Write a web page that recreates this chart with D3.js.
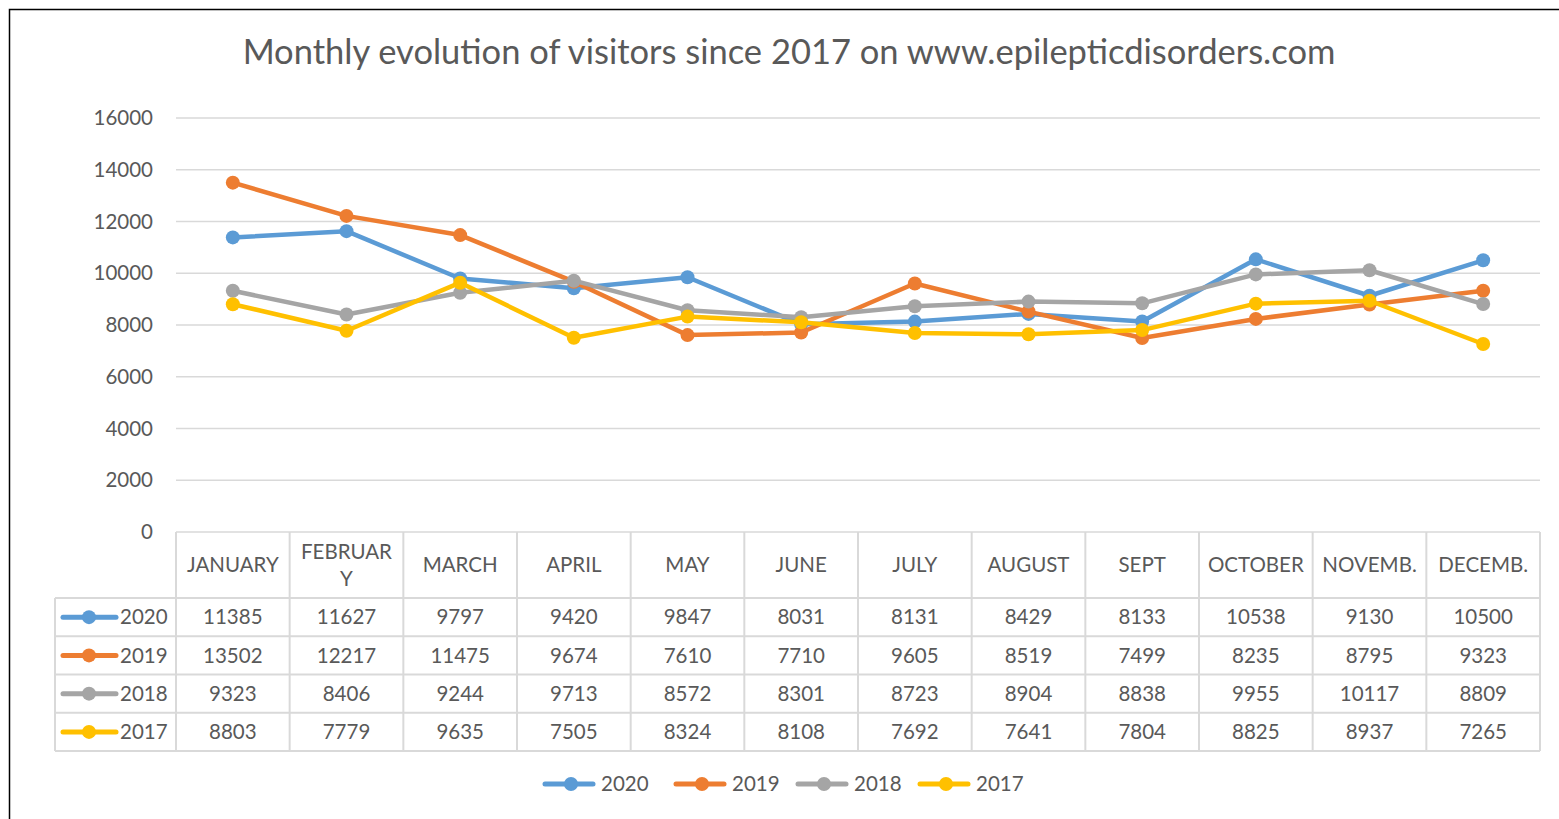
<!DOCTYPE html>
<html><head><meta charset="utf-8">
<script src="https://cdn.jsdelivr.net/npm/d3@7"></script>
<style>html,body{margin:0;padding:0;background:#fff;overflow:hidden}</style>
</head><body>
<svg id="chart" width="1559" height="819"></svg>
<script>
const months = ["JANUARY","FEBRUARY","MARCH","APRIL","MAY","JUNE","JULY","AUGUST","SEPT","OCTOBER","NOVEMB.","DECEMB."];
const years = ["2020","2019","2018","2017"];
const v2020 = [11385,11627,9797,9420,9847,8031,8131,8429,8133,10538,9130,10500];
const v2019 = [13502,12217,11475,9674,7610,7710,9605,8519,7499,8235,8795,9323];
const v2018 = [9323,8406,9244,9713,8572,8301,8723,8904,8838,9955,10117,8809];
const v2017 = [8803,7779,9635,7505,8324,8108,7692,7641,7804,8825,8937,7265];
const yTicks = [0,2000,4000,6000,8000,10000,12000,14000,16000];
const colors = ["#5B9BD5","#ED7D31","#A5A5A5","#FFC000"];
const title = "Monthly evolution of visitors since 2017 on www.epilepticdisorders.com";

(function(){
const series = years.map((y,i)=>({name:y, values:[v2020,v2019,v2018,v2017][i], color:colors[i]}));
const FONT = "Lato, 'Open Sans', sans-serif";
const TXT = "#595959";
const GRID = "#d9d9d9";
const FS = 20.5;

const svg = d3.select("#chart");
svg.append("rect").attr("x",9.5).attr("y",9.5).attr("width",1700).attr("height",1000)
  .attr("fill","#fff").attr("stroke","#000").attr("stroke-width",1.5);

const pL=176, pR=1540, pT=118, pB=532;
const x = d3.scaleBand().domain(months).range([pL,pR]);
const y = d3.scaleLinear().domain([0,16000]).range([pB,pT]);

svg.append("text").attr("x",789).attr("y",64).attr("text-anchor","middle")
  .attr("font-family",FONT).attr("font-size",34.5).attr("fill",TXT).text(title);

svg.append("g").selectAll("line").data(yTicks).join("line")
  .attr("x1",pL).attr("x2",pR).attr("y1",d=>y(d)).attr("y2",d=>y(d))
  .attr("stroke",GRID).attr("stroke-width",1.5);
svg.append("g").selectAll("text").data(yTicks).join("text")
  .attr("x",153).attr("y",d=>y(d)).attr("dy","0.35em").attr("text-anchor","end")
  .attr("font-family",FONT).attr("font-size",FS).attr("fill",TXT).text(d=>d);

const headBottom=598, rowH=38.25;
const rowsY = years.map((d,i)=>headBottom+i*rowH);
const tableBottom = headBottom+years.length*rowH;
const tg = svg.append("g").attr("stroke",GRID).attr("stroke-width",2);
months.concat(["__end"]).forEach((m,i)=>{
  const xx = i<months.length ? x(m) : pR;
  tg.append("line").attr("x1",xx).attr("x2",xx).attr("y1",pB).attr("y2",tableBottom);
});
tg.append("line").attr("x1",55).attr("x2",55).attr("y1",headBottom).attr("y2",tableBottom);
years.concat(["end"]).forEach((d,i)=>{
  const yy = headBottom+i*rowH;
  tg.append("line").attr("x1",55).attr("x2",pR).attr("y1",yy).attr("y2",yy);
});

const hg = svg.append("g").attr("font-family",FONT).attr("font-size",FS).attr("fill",TXT).attr("text-anchor","middle");
months.forEach(m=>{
  const t = hg.append("text").attr("x",x(m)+x.bandwidth()/2);
  t.text(m);
  const maxW = x.bandwidth()-16;
  let lines=[m];
  if (t.node().getComputedTextLength()>maxW){
    lines=[]; let cur="";
    for (const ch of m){
      t.text(cur+ch);
      if (t.node().getComputedTextLength()>maxW && cur){ lines.push(cur); cur=ch; } else cur+=ch;
    }
    lines.push(cur);
  }
  t.text(null);
  const cy=(pB+headBottom)/2, lh=27;
  lines.forEach((l,i)=>{
    t.append("tspan").attr("x",x(m)+x.bandwidth()/2)
     .attr("y",cy+(i-(lines.length-1)/2)*lh).attr("dy","0.35em").text(l);
  });
});

series.forEach((s,i)=>{
  const cy = rowsY[i]+rowH/2;
  const g = svg.append("g");
  g.selectAll("text").data(s.values).join("text")
    .attr("x",(d,j)=>x(months[j])+x.bandwidth()/2).attr("y",cy).attr("dy","0.35em")
    .attr("text-anchor","middle").attr("font-family",FONT).attr("font-size",FS).attr("fill",TXT).text(d=>d);
  g.append("line").attr("x1",63).attr("x2",116).attr("y1",cy).attr("y2",cy)
    .attr("stroke",s.color).attr("stroke-width",5).attr("stroke-linecap","round");
  g.append("circle").attr("cx",89).attr("cy",cy).attr("r",7).attr("fill",s.color);
  g.append("text").attr("x",120).attr("y",cy).attr("dy","0.35em").attr("font-family",FONT)
    .attr("font-size",FS).attr("fill",TXT).text(s.name);
});

const line = d3.line().x((d,j)=>x(months[j])+x.bandwidth()/2).y(d=>y(d));
series.forEach(s=>{
  const g = svg.append("g");
  g.append("path").attr("d",line(s.values)).attr("fill","none").attr("stroke",s.color)
    .attr("stroke-width",4.5).attr("stroke-linejoin","round").attr("stroke-linecap","round");
  g.selectAll("circle").data(s.values).join("circle")
    .attr("cx",(d,j)=>x(months[j])+x.bandwidth()/2).attr("cy",d=>y(d)).attr("r",7).attr("fill",s.color);
});

const legX=[545,676,798,920];
series.forEach((s,i)=>{
  const g = svg.append("g").attr("transform",`translate(${legX[i]},784)`);
  g.append("line").attr("x1",0).attr("x2",48).attr("stroke",s.color).attr("stroke-width",5).attr("stroke-linecap","round");
  g.append("circle").attr("cx",26).attr("r",7).attr("fill",s.color);
  g.append("text").attr("x",56).attr("dy","0.35em").attr("font-family",FONT).attr("font-size",FS).attr("fill",TXT).text(s.name);
});
})();
</script>
</body></html>
